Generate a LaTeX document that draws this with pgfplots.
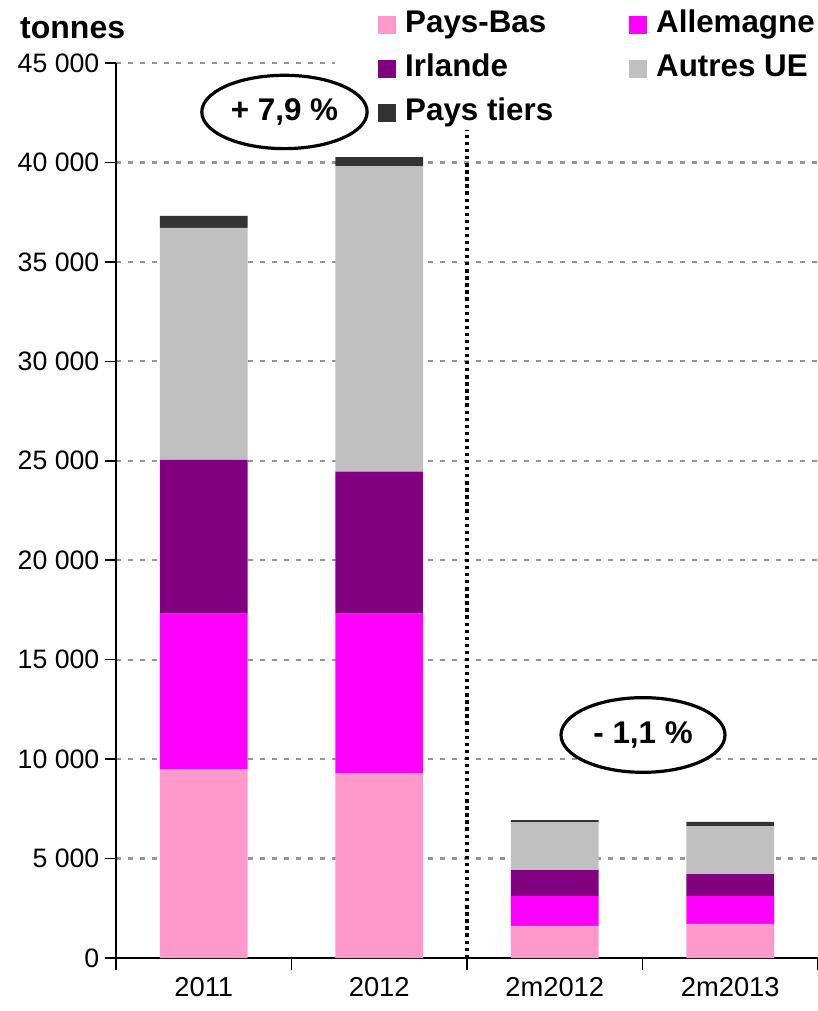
\documentclass[border=0pt]{standalone}
\usepackage{pgfplots}
\pgfplotsset{compat=1.18}
\usepackage{fontspec}
\setmainfont{Liberation Sans}
\usetikzlibrary{shapes.geometric}
\definecolor{cPB}{RGB}{255,153,204}
\definecolor{cAL}{RGB}{255,0,255}
\definecolor{cIR}{RGB}{128,0,128}
\definecolor{cAU}{RGB}{192,192,192}
\definecolor{cPT}{RGB}{51,51,51}
\definecolor{cGrid}{RGB}{150,150,150}
\begin{document}
\begin{tikzpicture}
\begin{axis}[
  at={(0pt,0pt)}, anchor=south west,
  width=526.5pt, height=671.25pt, scale only axis,
  xmin=-0.5, xmax=3.5, ymin=0, ymax=45000,
  enlargelimits=false, clip=false,
  scaled y ticks=false,
  ybar stacked, bar width=0.5,
  axis x line=bottom, axis y line=left,
  axis line style={-, line width=1.1pt, black},
  xtick={0,1,2,3},
  xticklabels={2011,2012,2m2012,2m2013},
  minor xtick={-0.5,0.5,1.5,2.5,3.5},
  ytick={0,5000,10000,15000,20000,25000,30000,35000,40000,45000},
  yticklabels={0,5 000,10 000,15 000,20 000,25 000,30 000,35 000,40 000,45 000},
  tick align=outside,
  major tick length=8pt, minor tick length=9pt,
  tick style={black, line width=1.1pt},
  major x tick style={draw=none},
  minor x tick style={black, line width=1.1pt},
  ymajorgrids,
  major grid style={cGrid, line width=1.6pt, dash pattern=on 3.75pt off 5.25pt},
  yticklabel style={font=\fontsize{20}{20}\selectfont, xshift=-1pt},
  xticklabel style={font=\fontsize{20.5}{20.5}\selectfont, yshift=-3pt},
  legend columns=2,
  legend cell align=left,
  legend image code/.code={\fill[#1] (0pt,-6.75pt) rectangle (13.5pt,6.75pt);},
  legend style={at={(axis description cs:0.312,1.0622)}, anchor=north west,
    draw=none, fill=white, inner xsep=32.25pt, inner ysep=2pt,
    font=\bfseries\fontsize{23.5}{23.5}\selectfont,
    nodes={text height=17pt, text depth=5pt, inner ysep=0pt, inner xsep=2pt},
    row sep=11pt,
    /tikz/every odd column/.append style={column sep=4.7pt},
    /tikz/every even column/.append style={column sep=55pt}},
]
\addplot[fill=cPB, draw=none] coordinates {(0,9470) (1,9270) (2,1610) (3,1710)};
\addplot[fill=cAL, draw=none] coordinates {(0,7840) (1,8040) (2,1510) (3,1410)};
\addplot[fill=cIR, draw=none] coordinates {(0,7730) (1,7140) (2,1300) (3,1100)};
\addplot[fill=cAU, draw=none] coordinates {(0,11670) (1,15370) (2,2410) (3,2410)};
\addplot[fill=cPT, draw=none] coordinates {(0,600) (1,450) (2,100) (3,220)};
\legend{Pays-Bas,Allemagne,Irlande,Autres UE,Pays tiers}
\draw[black, line width=2.5pt, dash pattern=on 2.5pt off 2.8pt] (axis cs:1.5,0) -- (axis cs:1.5,45000);
\coordinate (E1) at (axis cs:0.460,42538);
\coordinate (E2) at (axis cs:2.503,11213);
\end{axis}
\node[draw, fill=white, ellipse, line width=2.4pt, minimum width=124pt, minimum height=55pt, inner sep=0pt,
  font=\bfseries\fontsize{23.5}{23.5}\selectfont] at (E1) {+ 7,9 \%};
\node[draw, fill=white, ellipse, line width=2.4pt, minimum width=123pt, minimum height=56pt, inner sep=0pt,
  font=\bfseries\fontsize{23.5}{23.5}\selectfont] at (E2) {- 1,1 \%};
\node[font=\bfseries\fontsize{24}{24}\selectfont] at (-32.5pt,697.5pt) {tonnes};
\pgfresetboundingbox
\useasboundingbox (-87pt,-39.75pt) rectangle (526.5pt,718.5pt);
\end{tikzpicture}
\end{document}
